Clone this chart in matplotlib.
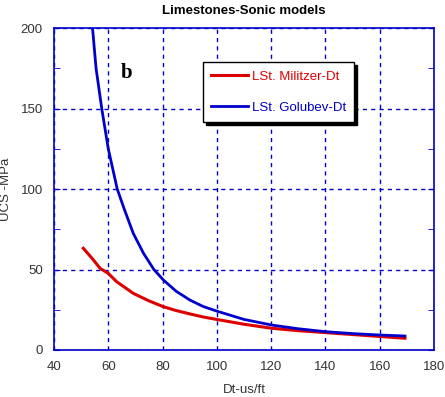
import matplotlib
matplotlib.use("Agg")
import matplotlib.pyplot as plt
from matplotlib.ticker import MultipleLocator

plt.rcParams["font.family"] = ["Liberation Sans", "DejaVu Sans"]

# ── Data ──────────────────────────────────────────────────────────────────────
dt_golubev  = [54.2, 55.5, 57.6, 60.0, 63.3, 66.0, 69.2, 73.0, 76.8, 80.3,
               85.0, 90.1, 95.0, 99.9, 110.0, 120.2, 130.0, 139.9, 150.0, 160.0, 169.3]
ucs_golubev = [200.0, 175.0, 150.0, 125.0, 100.0, 87.0, 72.5, 60.0, 50.0, 43.5,
               36.5, 31.0, 27.0, 24.2, 19.0, 15.5, 13.2, 11.4, 10.2, 9.3, 8.7]

dt_militzer  = [50.8, 54.0, 57.0, 60.0, 63.1, 66.0, 69.2, 75.0, 80.3, 85.0,
                90.1, 95.0, 99.9, 110.0, 120.2, 130.0, 139.9, 150.0, 160.0, 169.3]
ucs_militzer = [63.2, 57.0, 50.7, 47.6, 42.4, 39.0, 35.2, 30.5, 26.9, 24.5,
                22.4, 20.5, 19.0, 16.0, 13.5, 12.0, 10.8, 9.6, 8.4, 7.3]

x_ticks = [40, 60, 80, 100, 120, 140, 160, 180]
y_ticks = [0, 50, 100, 150, 200]

BLUE = "#0000cc"
RED  = "#dd0000"

fig = plt.figure(figsize=(4.45, 3.97), dpi=100)
ax = fig.add_axes([0.1213, 0.1184, 0.854, 0.811])

ax.plot(dt_militzer, ucs_militzer, color=RED, linewidth=2.2, label="LSt. Militzer-Dt")
ax.plot(dt_golubev, ucs_golubev, color=BLUE, linewidth=2.0, label="LSt. Golubev-Dt")

ax.set_xlim(40, 180)
ax.set_ylim(0, 200)
ax.set_xticks(x_ticks)
ax.set_yticks(y_ticks)
ax.yaxis.set_minor_locator(MultipleLocator(25))

ax.grid(True, which="major", color=BLUE, linestyle=(0, (3, 3)), linewidth=1.0)
for s in ax.spines.values():
    s.set_color(BLUE)
    s.set_linewidth(1.2)

ax.tick_params(axis="both", which="both", direction="in", colors=BLUE,
               labelcolor="#333333", labelsize=9.5)
ax.tick_params(axis="y", which="both", right=True, length=4)
ax.tick_params(axis="x", length=0, pad=8)
ax.tick_params(axis="y", pad=8)

ax.set_xlabel("Dt-us/ft", fontsize=9.5, color="#333333", labelpad=8)
ax.set_ylabel("UCS -MPa", fontsize=9.5, color="#333333", labelpad=6)
ax.set_title("Limestones-Sonic models", fontsize=9.5, fontweight="bold", pad=10)

ax.text(0.19, 0.86, "b", transform=ax.transAxes, fontsize=15, fontweight="bold",
        family="Liberation Serif", va="center", ha="center")

leg = ax.legend(loc="upper left", bbox_to_anchor=(0.392, 0.893), borderaxespad=0,
                fancybox=False, framealpha=1, edgecolor="black", labelcolor="linecolor",
                fontsize=9.5, handlelength=2.8, handletextpad=0.3, labelspacing=1.45,
                borderpad=0.6, shadow={"color": "black", "alpha": 1, "ox": 2, "oy": -2})
leg.get_frame().set_linewidth(1.0)

fig.savefig("out.png", dpi=100)
